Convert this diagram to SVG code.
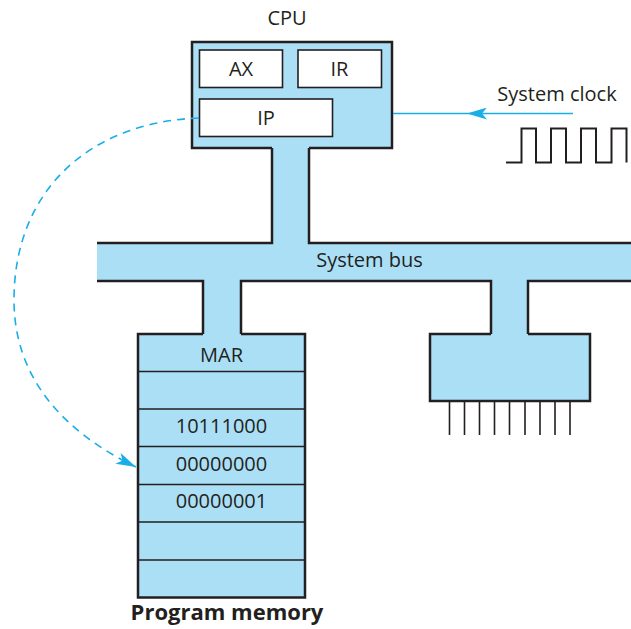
<svg xmlns="http://www.w3.org/2000/svg" width="631" height="629" viewBox="0 0 631 629">
<style>
text{font-family:"Open Sans","Noto Sans","Liberation Sans",sans-serif;font-size:20px;fill:#231f20;text-anchor:middle}
.bold{font-weight:bold;font-size:22px}
.box{fill:#abdff6;stroke:#231f20;stroke-width:2.5}
.reg{fill:#fff;stroke:#231f20;stroke-width:1.6}
.ln{fill:none;stroke:#231f20;stroke-width:1.6}
.edge{fill:none;stroke:#231f20;stroke-width:2.5}
.blue{fill:none;stroke:#1aaee8;stroke-width:1.6}
</style>
<defs>
<marker id="ah" viewBox="0 0 20 12" refX="20" refY="6" markerWidth="20" markerHeight="12" markerUnits="userSpaceOnUse" orient="auto">
<path d="M0,0 L20,6 L0,12 L5,6 z" fill="#1aaee8"/>
</marker>
</defs>
<rect width="631" height="629" fill="#fff"/>

<g id="cpu">
<text x="287" y="25">CPU</text>
<rect class="box" x="192" y="42" width="200" height="106"/>
<rect class="reg" x="199.5" y="50" width="83" height="37.5"/>
<text x="241" y="76">AX</text>
<rect class="reg" x="298" y="50" width="83.5" height="37.5"/>
<text x="339.5" y="76">IR</text>
<rect class="reg" x="199.5" y="99" width="133" height="37.5"/>
<text x="266" y="125">IP</text>
</g>

<g id="memory">
<rect class="box" x="138" y="334" width="167" height="263.5"/>
<path class="ln" d="M138,371.5H305M138,409H305M138,446.5H305M138,484.5H305M138,522H305M138,560H305"/>
<text x="221.5" y="362">MAR</text>
<text x="221.5" y="433">10111000</text>
<text x="221.5" y="471">00000000</text>
<text x="221.5" y="508">00000001</text>
<text class="bold" x="227" y="620">Program memory</text>
</g>

<g id="io">
<rect class="box" x="430" y="334" width="160" height="67"/>
<path class="ln" d="M449.5,401V435M464.5,401V435M479.5,401V435M494.5,401V435M509.5,401V435M525,401V435M540,401V435M555,401V435M570,401V435"/>
</g>

<g id="bus">
<path d="M97,243H272V146H309V243H631V281H528V336H491V281H241V336H203V281H97Z" fill="#abdff6"/>
<path class="edge" d="M97,243H272V148M309,148V243H631M631,281H528V334M491,334V281H241V334M203,334V281H97"/>
<text x="369.5" y="267">System bus</text>
</g>

<g id="clock">
<text x="557" y="101">System clock</text>
<path d="M506,162.5H521.5V128.5H536V162.5H551V128.5H566V162.5H581V128.5H596V162.5H611.5V128.5H626.5V162.5" fill="none" stroke="#231f20" stroke-width="2"/>
</g>

<g id="connectors">
<path class="blue" d="M573,113.5L467,113.5L393,113.5" marker-mid="url(#ah)"/>
<path class="blue" d="M199,118C90,122 14,190 14,300C14,390 80,440 136,467" stroke-dasharray="8 6" marker-end="url(#ah)"/>
</g>
</svg>
